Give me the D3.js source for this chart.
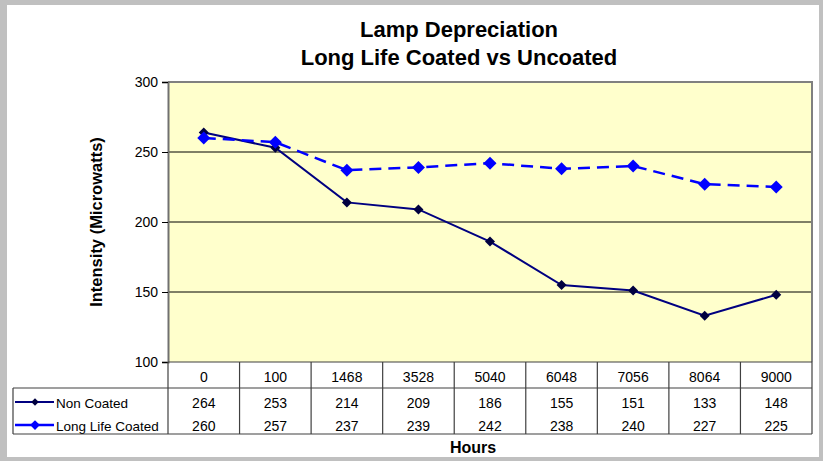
<!DOCTYPE html>
<html>
<head>
<meta charset="utf-8">
<script src="https://cdn.jsdelivr.net/npm/d3@7"></script>
<style>
  body { margin: 0; background: #fff; }
  text { font-family: "Liberation Sans", Arial, sans-serif; fill: #000; }
</style>
</head>
<body>
<div id="chart"></div>
<script>
const hours = ['0', '100', '1468', '3528', '5040', '6048', '7056', '8064', '9000'];
const nonCoated = [264, 253, 214, 209, 186, 155, 151, 133, 148];
const longLifeCoated = [260, 257, 237, 239, 242, 238, 240, 227, 225];
const yTicks = [100, 150, 200, 250, 300];

const series = [
  { name: 'Non Coated', values: nonCoated, color: '#000080', dash: null, width: 2, marker: 5, markerFill: '#000040' },
  { name: 'Long Life Coated', values: longLifeCoated, color: '#0000FF', dash: '12,7', width: 2.5, marker: 6.5, markerFill: '#0000FF' }
];

const W = 823, H = 461;
const plot = { left: 168, right: 812, top: 82, bottom: 362 };
const rowH = 24;

const svg = d3.select('#chart').append('svg')
  .attr('width', W).attr('height', H);

// outer frame
svg.append('rect').attr('width', W).attr('height', H).attr('fill', '#c0c0c0');
svg.append('rect').attr('x', 7).attr('y', 5).attr('width', 812).attr('height', 452).attr('fill', '#fff');

const x = d3.scaleBand().domain(hours).range([plot.left, plot.right]);
const y = d3.scaleLinear().domain([100, 300]).range([plot.bottom, plot.top]);

// plot area
svg.append('rect')
  .attr('x', plot.left).attr('y', plot.top)
  .attr('width', plot.right - plot.left).attr('height', plot.bottom - plot.top)
  .attr('fill', '#FFFFCC');

// gridlines
svg.append('g').selectAll('line')
  .data(yTicks.filter(d => d > 100 && d < 300))
  .join('line')
  .attr('x1', plot.left).attr('x2', plot.right)
  .attr('y1', d => y(d)).attr('y2', d => y(d))
  .attr('stroke', '#000').attr('stroke-width', 1);

// top/right border
svg.append('path')
  .attr('d', `M${plot.left},${plot.top}H${plot.right}V${plot.bottom}`)
  .attr('fill', 'none').attr('stroke', '#808080').attr('stroke-width', 2);

// y axis
const yAxis = svg.append('g')
  .attr('transform', `translate(${plot.left},0)`)
  .call(d3.axisLeft(y).tickValues(yTicks).tickSize(6).tickPadding(4));
yAxis.select('.domain').attr('stroke', '#707070').attr('stroke-width', 2);
yAxis.selectAll('.tick line').attr('stroke', '#000');
yAxis.selectAll('.tick text')
  .style('font-family', '"Liberation Sans", Arial, sans-serif')
  .style('font-size', '14px').attr('fill', '#000');

// lines and markers
const line = d3.line()
  .x((d, i) => x(hours[i]) + x.bandwidth() / 2)
  .y(d => y(d));

series.forEach(s => {
  svg.append('path')
    .datum(s.values)
    .attr('d', line)
    .attr('fill', 'none')
    .attr('stroke', s.color)
    .attr('stroke-width', s.width)
    .attr('stroke-dasharray', s.dash);
  svg.append('g').selectAll('path')
    .data(s.values)
    .join('path')
    .attr('transform', (d, i) => `translate(${x(hours[i]) + x.bandwidth() / 2},${y(d)})`)
    .attr('d', `M0,${-s.marker}L${s.marker},0L0,${s.marker}L${-s.marker},0Z`)
    .attr('fill', s.markerFill);
});

// data table
const tableLeft = 13;
const rowTop = plot.bottom;
const catBottom = rowTop + 26;
const tableBottom = catBottom + rowH * 2 - 2;
const tbl = svg.append('g').attr('stroke', '#404040').attr('stroke-width', 1.2);

tbl.append('line').attr('x1', plot.left).attr('x2', plot.right).attr('y1', rowTop).attr('y2', rowTop);
tbl.append('line').attr('x1', tableLeft).attr('x2', plot.right).attr('y1', catBottom).attr('y2', catBottom);
tbl.append('line').attr('x1', tableLeft).attr('x2', plot.right).attr('y1', tableBottom).attr('y2', tableBottom);
tbl.append('line').attr('x1', tableLeft).attr('x2', tableLeft).attr('y1', catBottom).attr('y2', tableBottom);
tbl.selectAll('line.col')
  .data(hours.map(h => x(h)).concat([plot.right]))
  .join('line')
  .attr('class', 'col')
  .attr('x1', d => d).attr('x2', d => d)
  .attr('y1', rowTop).attr('y2', tableBottom);

svg.append('g').selectAll('text')
  .data(hours)
  .join('text')
  .attr('x', d => x(d) + x.bandwidth() / 2)
  .attr('y', rowTop + 20)
  .attr('text-anchor', 'middle')
  .style('font-size', '14px')
  .text(d => d);

series.forEach((s, k) => {
  const ty = catBottom + 20 + k * 23;
  svg.append('g').selectAll('text')
    .data(s.values)
    .join('text')
    .attr('x', (d, i) => x(hours[i]) + x.bandwidth() / 2)
    .attr('y', ty)
    .attr('text-anchor', 'middle')
    .style('font-size', '14px')
    .text(d => d);
  // legend key
  const ly = ty - 6;
  svg.append('line')
    .attr('x1', 15).attr('x2', 54).attr('y1', ly).attr('y2', ly)
    .attr('stroke', s.color).attr('stroke-width', s.width);
  const m = s.marker * 0.75;
  svg.append('path')
    .attr('transform', `translate(35,${ly})`)
    .attr('d', `M0,${-m}L${m},0L0,${m}L${-m},0Z`)
    .attr('fill', s.markerFill);
  svg.append('text')
    .attr('x', 56).attr('y', ty)
    .style('font-size', '13.5px')
    .text(s.name);
});

// titles
svg.append('text')
  .attr('x', 459).attr('y', 37)
  .attr('text-anchor', 'middle')
  .style('font-size', '22px').style('font-weight', 'bold')
  .text('Lamp Depreciation');
svg.append('text')
  .attr('x', 459).attr('y', 65)
  .attr('text-anchor', 'middle')
  .style('font-size', '22px').style('font-weight', 'bold')
  .text('Long Life Coated vs Uncoated');

svg.append('text')
  .attr('transform', `translate(102,${(plot.top + plot.bottom) / 2}) rotate(-90)`)
  .attr('text-anchor', 'middle')
  .style('font-size', '16.5px').style('font-weight', 'bold')
  .text('Intensity (Microwatts)');

svg.append('text')
  .attr('x', 473).attr('y', 453)
  .attr('text-anchor', 'middle')
  .style('font-size', '16px').style('font-weight', 'bold')
  .text('Hours');
</script>
</body>
</html>
